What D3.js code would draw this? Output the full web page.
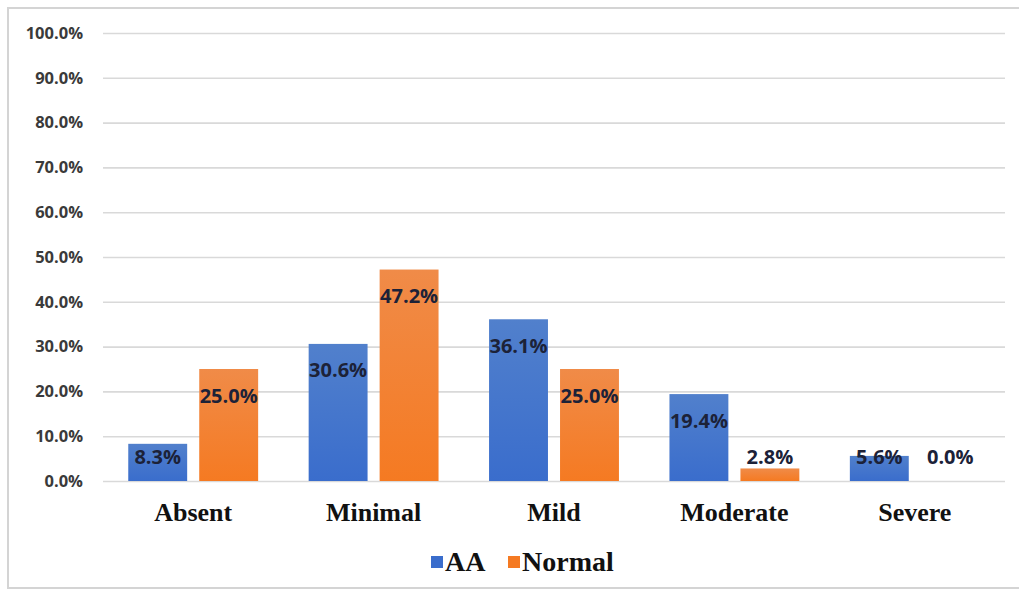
<!DOCTYPE html>
<html>
<head>
<meta charset="utf-8">
<script src="https://cdn.jsdelivr.net/npm/d3@7"></script>
<style>
  html, body { margin: 0; padding: 0; background: #fff; }
  svg { display: block; }
</style>
</head>
<body>
<svg id="chart" width="1019" height="591"></svg>
<script>
// Severity categories and the share of each group in them
const categories = ["Absent", "Minimal", "Mild", "Moderate", "Severe"];
const seriesNames = ["AA", "Normal"];
const aaValues = [8.3, 30.6, 36.1, 19.4, 5.6];
const normalValues = [25.0, 47.2, 25.0, 2.8, 0.0];
const yTicks = [0, 10, 20, 30, 40, 50, 60, 70, 80, 90, 100];

const colors = { AA: ["#5180cc", "#3a6dcc"], Normal: ["#f08b48", "#f57a22"] };

const W = 1019, H = 591;
const margin = { left: 103, right: 14, top: 33, bottom: 110 };
const svg = d3.select("#chart");

// outer frame
svg.append("rect")
  .attr("x", 8).attr("y", 8)
  .attr("width", W + 10).attr("height", 580)
  .attr("fill", "#fff").attr("stroke", "#d4d4d4").attr("stroke-width", 2);

const x0 = d3.scaleBand().domain(categories)
  .range([margin.left, W - margin.right]).paddingInner(0.28).paddingOuter(0.14);
const x1 = d3.scaleBand().domain(seriesNames)
  .range([0, x0.bandwidth()]).paddingInner(0.17);
const y = d3.scaleLinear().domain([0, 100]).range([H - margin.bottom, margin.top]);

// gradients for the bar fills
const defs = svg.append("defs");
seriesNames.forEach(s => {
  const g = defs.append("linearGradient").attr("id", "grad-" + s)
    .attr("x1", 0).attr("y1", 0).attr("x2", 0).attr("y2", 1);
  g.append("stop").attr("offset", "0%").attr("stop-color", colors[s][0]);
  g.append("stop").attr("offset", "100%").attr("stop-color", colors[s][1]);
});

// gridlines and y tick labels
const yAxis = d3.axisLeft(y).tickValues(yTicks)
  .tickSize(-(W - margin.left - margin.right))
  .tickFormat(d => d.toFixed(1) + "%").tickPadding(20);
const gy = svg.append("g").attr("transform", `translate(${margin.left},0)`).call(yAxis);
gy.select(".domain").remove();
gy.selectAll(".tick line").attr("stroke", "#d9d9d9").attr("stroke-width", 1.6);
gy.selectAll(".tick text")
  .attr("fill", "#3a3a3a")
  .style("font-family", "'Open Sans', 'DejaVu Sans', sans-serif")
  .style("font-weight", "700").style("font-size", "16.5px");

// bars
const rows = categories.map((c, i) => ({ cat: c, vals: [
  { s: "AA", v: aaValues[i] }, { s: "Normal", v: normalValues[i] }] }));

const groups = svg.append("g").selectAll("g").data(rows).join("g")
  .attr("transform", d => `translate(${x0(d.cat)},0)`);

groups.selectAll("rect").data(d => d.vals).join("rect")
  .attr("x", d => x1(d.s))
  .attr("y", d => y(d.v))
  .attr("width", x1.bandwidth())
  .attr("height", d => y(0) - y(d.v))
  .attr("fill", d => `url(#grad-${d.s})`);

// value labels
groups.selectAll("text").data(d => d.vals).join("text")
  .attr("x", d => x1(d.s) + x1.bandwidth() / 2)
  .attr("y", d => Math.min(y(d.v) + 26, y(0) - 25))
  .attr("text-anchor", "middle").attr("dominant-baseline", "central")
  .attr("fill", "#1c2238")
  .style("font-family", "'Open Sans', 'DejaVu Sans', sans-serif")
  .style("font-weight", "700").style("font-size", "20px")
  .text(d => d.v.toFixed(1) + "%");

// category labels
svg.append("g").selectAll("text").data(categories).join("text")
  .attr("x", d => x0(d) + x0.bandwidth() / 2)
  .attr("y", 521)
  .attr("text-anchor", "middle")
  .attr("fill", "#111")
  .style("font-family", "'Liberation Serif', 'Times New Roman', serif")
  .style("font-weight", "700").style("font-size", "26px")
  .text(d => d);

// legend
const legendItems = [{ s: "AA", x: 431 }, { s: "Normal", x: 508 }];
const lg = svg.append("g").selectAll("g").data(legendItems).join("g")
  .attr("transform", d => `translate(${d.x},562)`);
lg.append("rect").attr("x", 0).attr("y", -6).attr("width", 12).attr("height", 12)
  .attr("fill", d => colors[d.s][1]);
lg.append("text").attr("x", 14).attr("y", 9)
  .attr("fill", "#111")
  .style("font-family", "'Liberation Serif', 'Times New Roman', serif")
  .style("font-weight", "700").style("font-size", "28px")
  .text(d => d.s);
</script>
</body>
</html>
